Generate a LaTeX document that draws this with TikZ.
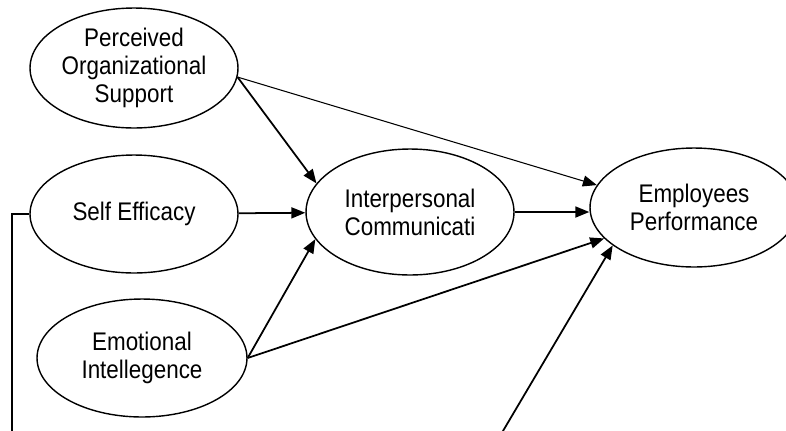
\documentclass[tikz,border=0pt]{standalone}
\usepackage{fontspec}
\setmainfont{Liberation Sans}[FakeStretch=0.88]
\usetikzlibrary{shapes.geometric, arrows.meta}

\begin{document}
\begin{tikzpicture}[
    x=0.02cm, y=-0.02cm,
    lat-var/.style={ellipse, draw, line width=0.8pt, inner sep=0pt, minimum width=4.16cm, minimum height=2.36cm, align=center, font=\fontsize{14.5}{16}\selectfont},
    path-arr/.style={-{Triangle[length=0.28cm, width=0.22cm]}, line width=1pt},
    thin-arr/.style={path-arr, line width=0.6pt}
  ]
  \useasboundingbox (0,0) rectangle (786,430);
  \clip (0,0) rectangle (786,430);

  \node[lat-var, minimum height=2.4cm] (pos) at (134,68) {Perceived\\Organizational\\Support};
  \node[lat-var] (se) at (134,214) {Self Efficacy};
  \node[lat-var, minimum width=4.2cm] (ei) at (142,358) {Emotional\\Intellegence};

  \node[lat-var, minimum height=2.52cm] (ic) at (410,212) {Interpersonal\\Communicati};
  \node[lat-var, minimum height=2.38cm] (ep) at (694,207.5) {Employees\\Performance};

  \coordinate (lft) at (12,440);
  \coordinate (btm) at (500,436);

  \draw[path-arr] (pos.-5) -- (ic.163);
  \draw[thin-arr] (pos.-5) -- (ep.167);
  \draw[path-arr] (se) -- (ic);
  \draw[path-arr] (ei.east) -- (ic.196);
  \draw[path-arr] (ei.east) -- (ep.199);
  \draw[path-arr] (ic.east) -- (ic.east -| ep.west);
  \draw[path-arr] (btm) -- (ep.205);

  \draw[line width=1pt] (se.west) -| (lft);

\end{tikzpicture}
\end{document}
